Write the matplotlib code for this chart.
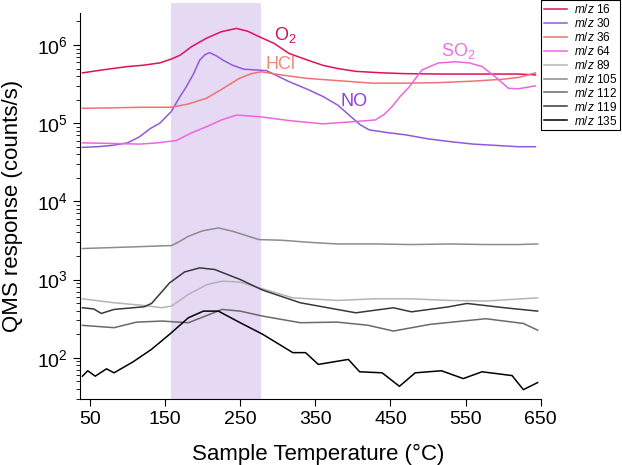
import matplotlib
matplotlib.use("Agg")
import matplotlib.pyplot as plt
from matplotlib.ticker import LogLocator, FixedLocator

plt.rcParams['font.family'] = ['Liberation Sans', 'DejaVu Sans']
plt.rcParams['mathtext.fontset'] = 'custom'
plt.rcParams['mathtext.rm'] = 'Liberation Sans'
plt.rcParams['mathtext.it'] = 'Liberation Sans:italic'

# temperature (°C) and QMS response (counts/s)
t16 = [40, 60, 80, 100, 120, 143, 158, 170, 185, 205, 225, 245, 260, 275, 295,
       315, 340, 360, 380, 404, 440, 470, 520, 570, 620, 643]
y16 = [4.4e5, 4.7e5, 5.0e5, 5.3e5, 5.5e5, 5.9e5, 6.6e5, 7.4e5, 9.5e5, 1.22e6,
       1.48e6, 1.63e6, 1.5e6, 1.28e6, 1.05e6, 7.8e5, 6.4e5, 5.5e5, 5.0e5, 4.6e5,
       4.4e5, 4.3e5, 4.25e5, 4.25e5, 4.25e5, 4.15e5]

t30 = [40, 60, 80, 100, 116, 130, 143, 158, 170, 178, 188, 196, 203, 209, 218,
       227, 240, 255, 270, 285, 300, 315, 340, 360, 380, 395, 410, 422, 445, 470,
       500, 530, 560, 590, 620, 643]
y30 = [4.9e4, 5.0e4, 5.2e4, 5.6e4, 6.7e4, 8.5e4, 1.0e5, 1.4e5, 2.2e5, 2.9e5,
       4.3e5, 6.4e5, 7.5e5, 8.0e5, 7.3e5, 6.4e5, 5.5e5, 4.9e5, 4.8e5, 4.7e5,
       4.0e5, 3.4e5, 2.7e5, 2.2e5, 1.7e5, 1.27e5, 9.5e4, 8.2e4, 7.6e4, 7.1e4,
       6.3e4, 5.8e4, 5.4e4, 5.2e4, 5.0e4, 5.0e4]

t36 = [40, 80, 120, 158, 180, 205, 225, 249, 265, 278, 300, 338, 380, 426, 470,
       514, 560, 600, 621, 643]
y36 = [1.55e5, 1.57e5, 1.6e5, 1.6e5, 1.75e5, 2.08e5, 2.7e5, 3.75e5, 4.3e5, 4.55e5,
       4.2e5, 3.75e5, 3.5e5, 3.25e5, 3.25e5, 3.3e5, 3.45e5, 3.65e5, 3.85e5, 4.4e5]

t64 = [40, 80, 116, 140, 165, 185, 205, 225, 245, 276, 315, 360, 404, 430, 442,
       452, 463, 475, 492, 514, 537, 555, 572, 590, 607, 620, 643]
y64 = [5.6e4, 5.5e4, 5.4e4, 5.6e4, 6.0e4, 7.5e4, 9.0e4, 1.1e5, 1.27e5, 1.21e5,
       1.08e5, 9.8e4, 1.05e5, 1.1e5, 1.3e5, 1.62e5, 2.2e5, 2.9e5, 4.8e5, 5.9e5,
       6.1e5, 5.9e5, 5.3e5, 3.9e5, 2.8e5, 2.75e5, 3.0e5]

t89 = [40, 82, 122, 146, 159, 181, 206, 226, 250, 280, 320, 379, 429, 478, 528,
       577, 646]
y89 = [566, 504, 465, 435, 460, 644, 863, 952, 925, 760, 583, 540, 566, 566, 540,
       530, 583]

t105 = [40, 100, 159, 170, 181, 200, 221, 240, 260, 275, 305, 340, 379, 430, 478,
        530, 577, 620, 646]
y105 = [2490, 2600, 2720, 3100, 3570, 4200, 4570, 4140, 3600, 3240, 3180, 3000,
        2850, 2850, 2800, 2850, 2800, 2800, 2850]

t112 = [40, 82, 112, 146, 181, 200, 226, 250, 280, 330, 379, 420, 454, 503, 540,
        577, 627, 646]
y112 = [259, 242, 285, 294, 280, 330, 414, 394, 340, 280, 285, 260, 219, 267, 290,
        315, 274, 225]

t119 = [40, 55, 65, 82, 122, 132, 156, 176, 196, 216, 250, 280, 330, 379, 404,
        454, 478, 528, 552, 602, 646]
y119 = [435, 420, 368, 414, 448, 494, 906, 1250, 1408, 1343, 1000, 731, 504, 414,
        375, 435, 386, 448, 494, 435, 394]

t135 = [40, 47, 57, 72, 82, 107, 132, 156, 181, 201, 221, 250, 280, 320, 337, 354,
        394, 409, 439, 462, 483, 518, 547, 572, 612, 627, 646]
y135 = [58, 68, 58, 72, 64, 88, 128, 199, 324, 394, 394, 280, 199, 116, 116, 82,
        95, 66, 64, 43, 64, 68, 54, 66, 59, 39, 48]

band = (158, 278)
xticks = [50, 150, 250, 350, 450, 550, 650]

series = [
    (t16, y16, '#e0105a', '16'),
    (t30, y30, '#9158dc', '30'),
    (t36, y36, '#f07272', '36'),
    (t64, y64, '#ee66dd', '64'),
    (t89, y89, '#b4b4b4', '89'),
    (t105, y105, '#8c8c8c', '105'),
    (t112, y112, '#6a6a6a', '112'),
    (t119, y119, '#383838', '119'),
    (t135, y135, '#000000', '135'),
]

fig = plt.figure(figsize=(6.22, 4.65), dpi=100)
ax = fig.add_axes([80 / 622, 1 - 399 / 465, 461 / 622, 386.3 / 465])

ax.axvspan(band[0], band[1], ymin=0, ymax=1.025, color='#e6d9f4', lw=0,
           clip_on=False, zorder=0)

for t, y, c, mz in series:
    ax.plot(t, y, color=c, lw=1.1, label='$m/z$ ' + mz)

ax.set_yscale('log')
ax.set_xlim(36.7, 650.5)
ax.set_ylim(29.6, 2.59e6)
ax.xaxis.set_major_locator(FixedLocator(xticks))
ax.yaxis.set_major_locator(LogLocator(base=10, numticks=10))
ax.yaxis.set_minor_locator(LogLocator(base=10, subs=range(2, 10), numticks=20))

for s in ['top', 'right']:
    ax.spines[s].set_visible(False)
for s in ['left', 'bottom']:
    ax.spines[s].set_linewidth(0.8)
ax.tick_params(axis='both', which='major', direction='out', length=5, width=0.8,
               labelsize=14)
ax.tick_params(axis='y', which='minor', direction='out', length=3, width=0.6)

ax.set_xlabel('Sample Temperature (°C)', fontsize=16)
ax.set_ylabel('QMS response (counts/s)', fontsize=16)
ax.xaxis.set_label_coords(0.516, -0.115)
ax.yaxis.set_label_coords(-0.124, 0.5)

ax.text(310, 1.34e6, 'O$_2$', color='#c8105a', fontsize=13, ha='center', va='center')
ax.text(304, 5.7e5, 'HCl', color='#f08878', fontsize=13, ha='center', va='center')
ax.text(402, 1.89e5, 'NO', color='#8f3fdd', fontsize=13, ha='center', va='center')
ax.text(540, 8.4e5, 'SO$_2$', color='#ee70de', fontsize=13, ha='center', va='center')

leg = fig.legend(loc='upper right', bbox_to_anchor=(0.997, 1.0), fontsize=8.5,
                 handlelength=1.9, labelspacing=0.08, borderpad=0.25,
                 handletextpad=0.6, borderaxespad=0, fancybox=False,
                 edgecolor='black', framealpha=1)
leg.get_frame().set_linewidth(0.8)

fig.savefig('out.png', dpi=100)
